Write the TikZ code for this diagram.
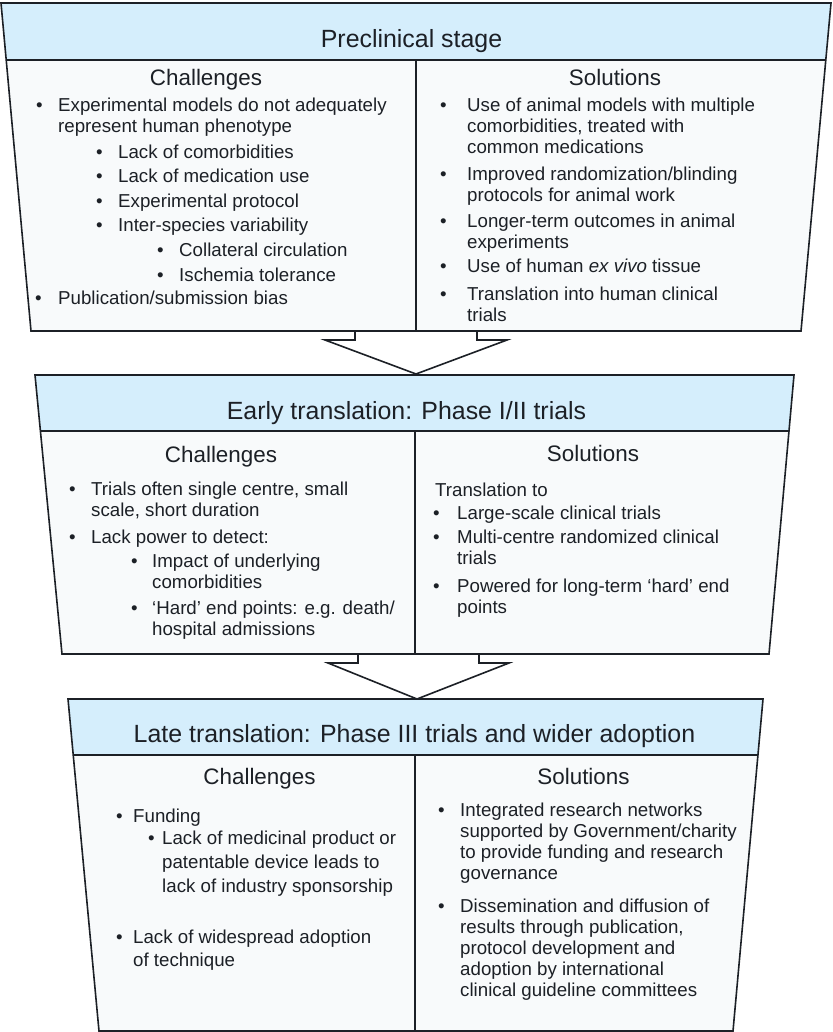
\documentclass[tikz,border=0pt]{standalone}
\usepackage{fontspec}
\setmainfont{Liberation Sans}
\usetikzlibrary{calc}
\definecolor{hdr}{RGB}{213,238,252}
\definecolor{bdy}{RGB}{248,250,251}
\definecolor{ink}{RGB}{28,32,38}
\newcount\lnc
\newcommand\Ln[3]{\global\advance\lnc by 1\relax\node[body] (L\the\lnc) at (#1,#2) {#3};}
\newcommand\Bu[4]{\Ln{#1}{#3}{•}\Ln{#2}{#3}{#4}}
\tikzset{
  body/.style={anchor=base west, inner sep=0pt, font=\fontsize{18.7}{21}\selectfont, text=ink},
  head/.style={anchor=base, inner sep=0pt, font=\fontsize{22.4}{25}\selectfont, text=ink},
  ttl/.style={anchor=base, inner sep=0pt, font=\fontsize{24.9}{28}\selectfont, text=ink},
  edge/.style={draw=ink, line width=1.6pt, line join=miter},
  arrowblk/.style={draw=ink, line width=1.6pt, fill=white, line join=miter},
}
\begin{document}
\begin{tikzpicture}[x=1pt,y=-1pt]
\useasboundingbox (0,0) rectangle (832,1032);
\fill[white] (0,0) rectangle (832,1032);

% ---------- arrows ----------
\coordinate (a1s1) at (355,331); \coordinate (a1s2) at (355,340);
\coordinate (a1h1) at (325,340); \coordinate (a1t) at (416,374);
\coordinate (a1h2) at (507,340); \coordinate (a1s3) at (477,340);
\coordinate (a1s4) at (477,331);
\path[arrowblk] (a1s1) -- (a1s2) -- (a1h1) -- (a1t) -- (a1h2) -- (a1s3) -- (a1s4);

\coordinate (a2s1) at (358,654); \coordinate (a2s2) at (358,663);
\coordinate (a2h1) at (328,663); \coordinate (a2t) at (417,699);
\coordinate (a2h2) at (509,663); \coordinate (a2s3) at (479,663);
\coordinate (a2s4) at (479,654);
\path[arrowblk] (a2s1) -- (a2s2) -- (a2h1) -- (a2t) -- (a2h2) -- (a2s3) -- (a2s4);

% ---------- box 1 ----------
\coordinate (A1) at (1,3); \coordinate (B1) at (831,3);
\coordinate (C1) at (801,331); \coordinate (D1) at (31,331);
\coordinate (H1l) at ($(A1)!0.1738!(D1)$); \coordinate (H1r) at ($(B1)!0.1738!(C1)$);
\coordinate (V1t) at (416,60); \coordinate (V1b) at (416,331);
\fill[bdy] (A1) -- (B1) -- (C1) -- (D1) -- cycle;
\fill[hdr] (A1) -- (B1) -- (H1r) -- (H1l) -- cycle;
\draw[edge] (A1) -- (B1) -- (C1) -- (D1) -- cycle;
\draw[edge] (H1l) -- (H1r);
\draw[edge] (V1t) -- (V1b);

% ---------- box 2 ----------
\coordinate (A2) at (35,375); \coordinate (B2) at (794,375);
\coordinate (C2) at (769,654); \coordinate (D2) at (62,654);
\coordinate (H2l) at ($(A2)!0.2007!(D2)$); \coordinate (H2r) at ($(B2)!0.2007!(C2)$);
\coordinate (V2t) at (415,431); \coordinate (V2b) at (415,654);
\fill[bdy] (A2) -- (B2) -- (C2) -- (D2) -- cycle;
\fill[hdr] (A2) -- (B2) -- (H2r) -- (H2l) -- cycle;
\draw[edge] (A2) -- (B2) -- (C2) -- (D2) -- cycle;
\draw[edge] (H2l) -- (H2r);
\draw[edge] (V2t) -- (V2b);

% ---------- box 3 ----------
\coordinate (A3) at (68,699); \coordinate (B3) at (763,699);
\coordinate (C3) at (733,1031); \coordinate (D3) at (99,1031);
\coordinate (H3l) at ($(A3)!0.1687!(D3)$); \coordinate (H3r) at ($(B3)!0.1687!(C3)$);
\coordinate (V3t) at (415,755); \coordinate (V3b) at (415,1031);
\fill[bdy] (A3) -- (B3) -- (C3) -- (D3) -- cycle;
\fill[hdr] (A3) -- (B3) -- (H3r) -- (H3l) -- cycle;
\draw[edge] (A3) -- (B3) -- (C3) -- (D3) -- cycle;
\draw[edge] (H3l) -- (H3r);
\draw[edge] (V3t) -- (V3b);

% ---------- box 1 text ----------
\node[ttl] (T1) at (411.5,48) {Preclinical stage};
\node[head] (Ch1) at (206,86) {Challenges};
\node[head] (So1) at (615,86) {Solutions};
\Bu{36}{58}{112}{Experimental models do not adequately}
\Ln{58}{133}{represent human phenotype}
\Bu{96}{118}{159}{Lack of comorbidities}
\Bu{96}{118}{183}{Lack of medication use}
\Bu{96}{118}{208}{Experimental protocol}
\Bu{96}{118}{232}{Inter-species variability}
\Bu{157}{179}{256}{Collateral circulation}
\Bu{157}{179}{281}{Ischemia tolerance}
\Bu{35}{58}{304}{Publication/submission bias}

\Bu{440}{467}{112}{Use of animal models with multiple}
\Ln{467}{133}{comorbidities, treated with}
\Ln{467}{154}{common medications}
\Bu{440}{467}{181}{Improved randomization/blinding}
\Ln{467}{202}{protocols for animal work}
\Bu{440}{467}{227}{Longer-term outcomes in animal}
\Ln{467}{248}{experiments}
\Bu{440}{467}{272}{Use of human \textit{ex vivo} tissue}
\Bu{440}{467}{300}{Translation into human clinical}
\Ln{467}{321}{trials}

% ---------- box 2 text ----------
\node[ttl] (T2) at (406.5,419) {Early translation: Phase I/II trials};
\node[head] (Ch2) at (221,462) {Challenges};
\node[head] (So2) at (593,461) {Solutions};
\Bu{69}{91}{495}{Trials often single centre, small}
\Ln{91}{516}{scale, short duration}
\Bu{69}{91}{543}{Lack power to detect:}
\Bu{131}{152}{567}{Impact of underlying}
\Ln{152}{588}{comorbidities}
\Bu{131}{152}{614}{‘Hard’ end points: e.g. death/}
\Ln{152}{635}{hospital admissions}

\Ln{435}{496}{Translation to}
\Bu{433}{457}{519}{Large-scale clinical trials}
\Bu{433}{457}{543}{Multi-centre randomized clinical}
\Ln{457}{564}{trials}
\Bu{433}{457}{592}{Powered for long-term ‘hard’ end}
\Ln{457}{613}{points}

% ---------- box 3 text ----------
\node[ttl] (T3) at (414.5,742) {Late translation: Phase III trials and wider adoption};
\node[head] (Ch3) at (259.5,784) {Challenges};
\node[head] (So3) at (583.5,784) {Solutions};
\Bu{116}{133}{822}{Funding}
\Bu{148}{162}{844}{Lack of medicinal product or}
\Ln{162}{868}{patentable device leads to}
\Ln{162}{892}{lack of industry sponsorship}
\Bu{116}{133}{943}{Lack of widespread adoption}
\Ln{133}{966}{of technique}

\Bu{438}{460}{816}{Integrated research networks}
\Ln{460}{837}{supported by Government/charity}
\Ln{460}{858}{to provide funding and research}
\Ln{460}{879}{governance}
\Bu{438}{460}{912}{Dissemination and diffusion of}
\Ln{460}{933}{results through publication,}
\Ln{460}{954}{protocol development and}
\Ln{460}{975}{adoption by international}
\Ln{460}{996}{clinical guideline committees}
\end{tikzpicture}
\end{document}
